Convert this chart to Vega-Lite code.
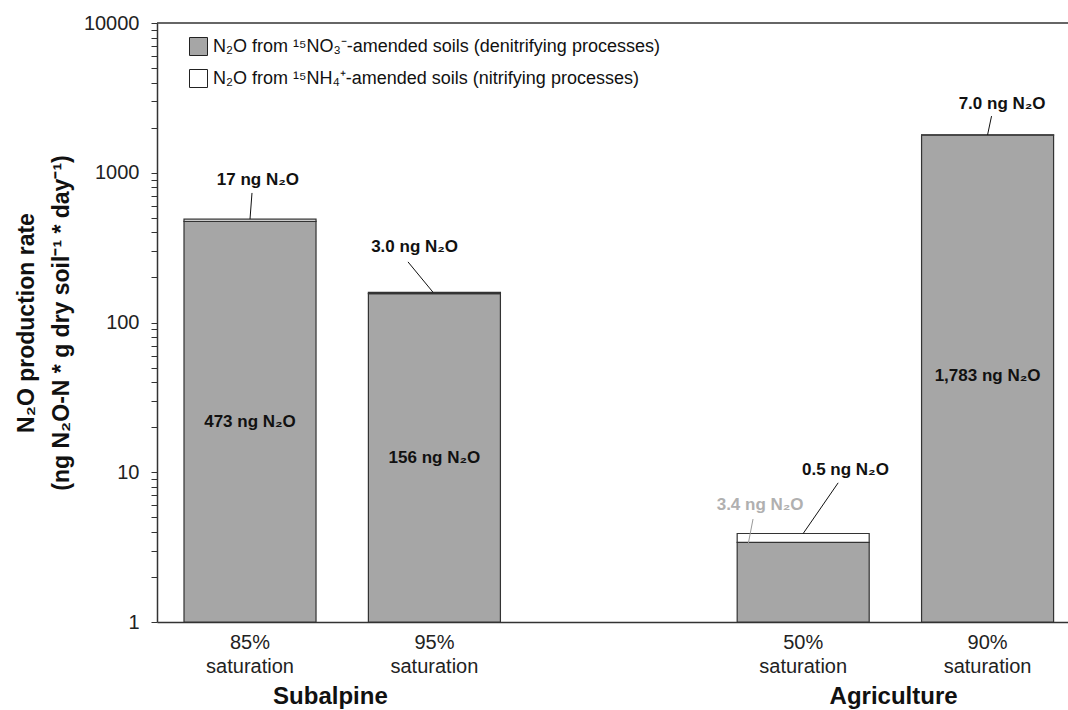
{
  "$schema": "https://vega.github.io/schema/vega-lite/v6.json",
  "width": 911,
  "height": 599,
  "autosize": {"type": "none"},
  "padding": {"left": 157, "top": 23, "right": 0, "bottom": 88},
  "background": "white",
  "config": {"font": "Liberation Sans", "view": {"stroke": null}},
  "datasets": {
    "bars": [
      {"cat": "85%\nsaturation", "source": "N₂O from ¹⁵NO₃⁻-amended soils (denitrifying processes)", "value": 473},
      {"cat": "85%\nsaturation", "source": "N₂O from ¹⁵NH₄⁺-amended soils (nitrifying processes)", "value": 17},
      {"cat": "95%\nsaturation", "source": "N₂O from ¹⁵NO₃⁻-amended soils (denitrifying processes)", "value": 156},
      {"cat": "95%\nsaturation", "source": "N₂O from ¹⁵NH₄⁺-amended soils (nitrifying processes)", "value": 3.0},
      {"cat": "50%\nsaturation", "source": "N₂O from ¹⁵NO₃⁻-amended soils (denitrifying processes)", "value": 3.4},
      {"cat": "50%\nsaturation", "source": "N₂O from ¹⁵NH₄⁺-amended soils (nitrifying processes)", "value": 0.5},
      {"cat": "90%\nsaturation", "source": "N₂O from ¹⁵NO₃⁻-amended soils (denitrifying processes)", "value": 1783},
      {"cat": "90%\nsaturation", "source": "N₂O from ¹⁵NH₄⁺-amended soils (nitrifying processes)", "value": 7.0}
    ],
    "barlabels": [
      {"cat": "85%\nsaturation", "text": "473 ng N₂O", "ly": 21.7},
      {"cat": "95%\nsaturation", "text": "156 ng N₂O", "ly": 12.4},
      {"cat": "90%\nsaturation", "text": "1,783 ng N₂O", "ly": 44}
    ],
    "ann": [
      {"id": "a17", "cat": "85%\nsaturation", "text": "17 ng N₂O", "ty": 895, "ly1": 733, "ly2": 490},
      {"id": "a3", "cat": "95%\nsaturation", "text": "3.0 ng N₂O", "ty": 319, "ly1": 254, "ly2": 159},
      {"id": "a05", "cat": "50%\nsaturation", "text": "0.5 ng N₂O", "ty": 10.4, "ly1": 8.5, "ly2": 3.9},
      {"id": "a34", "cat": "50%\nsaturation", "text": "3.4 ng N₂O", "ty": 6.0, "ly1": 4.87, "ly2": 3.3},
      {"id": "a7", "cat": "90%\nsaturation", "text": "7.0 ng N₂O", "ty": 2900, "ly1": 2390, "ly2": 1790}
    ],
    "groups": [
      {"cat": "95%\nsaturation", "group": "Subalpine"},
      {"cat": "90%\nsaturation", "group": "Agriculture"}
    ]
  },
  "layer": [
    {
      "data": {"name": "bars"},
      "transform": [
        {"stack": "value", "groupby": ["cat"], "sort": [{"field": "source", "order": "descending"}], "as": ["v0", "v1"]}
      ],
      "mark": {"type": "bar", "stroke": "#333333", "strokeWidth": 1.2},
      "encoding": {
        "x": {
          "field": "cat", "type": "nominal",
          "scale": {"domain": ["85%\nsaturation", "95%\nsaturation", " ", "50%\nsaturation", "90%\nsaturation"], "paddingInner": 0.284, "paddingOuter": 0.1123, "align": 0.652},
          "axis": {"title": null, "ticks": false, "labelAngle": 0, "labelFontSize": 20, "labelColor": "#222222", "labelExpr": "split(datum.label, '\\n')", "labelPadding": 10, "labelLineHeight": 24, "labelBaseline": "top", "domainColor": "#333333", "domainWidth": 1.5}
        },
        "y": {
          "field": "v1", "type": "quantitative",
          "scale": {"type": "log", "domain": [1, 10000], "clamp": true},
          "axis": {
            "title": ["N₂O production rate", "(ng N₂O-N * g dry soil⁻¹ * day⁻¹)"],
            "titleFontSize": 23, "titleFontWeight": "bold", "titleColor": "#111111", "titlePadding": 10, "titleLineHeight": 35,
            "values": [1, 2, 3, 4, 5, 6, 7, 8, 9, 10, 20, 30, 40, 50, 60, 70, 80, 90, 100, 200, 300, 400, 500, 600, 700, 800, 900, 1000, 2000, 3000, 4000, 5000, 6000, 7000, 8000, 9000, 10000],
            "labelExpr": "indexof([1, 10, 100, 1000, 10000], datum.value) >= 0 ? datum.label : ''",
            "format": "d", "labelFontSize": 20, "labelColor": "#222222", "labelPadding": 12,
            "tickSize": 6, "tickColor": "#333333", "domainColor": "#333333", "domainWidth": 1.5, "grid": false
          }
        },
        "y2": {"field": "v0"},
        "color": {
          "field": "source", "type": "nominal",
          "scale": {"domain": ["N₂O from ¹⁵NO₃⁻-amended soils (denitrifying processes)", "N₂O from ¹⁵NH₄⁺-amended soils (nitrifying processes)"], "range": ["#a6a6a6", "#ffffff"]},
          "legend": {"title": null, "orient": "none", "legendX": 32, "legendY": 14, "symbolType": "square", "symbolSize": 324, "symbolStrokeColor": "#222222", "symbolStrokeWidth": 1, "labelFontSize": 18, "labelLimit": 0, "labelOffset": 5, "rowPadding": 9, "padding": 0, "labelColor": "#111111"}
        }
      }
    },
    {
      "data": {"values": [{}]},
      "mark": {"type": "rule", "color": "#333333", "strokeWidth": 1.5},
      "encoding": {"y": {"datum": 10000}}
    },
    {
      "data": {"name": "barlabels"},
      "mark": {"type": "text", "fontSize": 17, "fontWeight": "bold", "color": "#111111"},
      "encoding": {
        "x": {"field": "cat", "type": "nominal"},
        "y": {"field": "ly", "type": "quantitative"},
        "text": {"field": "text"}
      }
    },
    {
      "data": {"name": "groups"},
      "transform": [{"filter": "datum.group == 'Subalpine'"}],
      "mark": {"type": "text", "fontSize": 24, "fontWeight": "bold", "dx": -38, "dy": 75, "baseline": "middle", "color": "#111111"},
      "encoding": {
        "x": {"field": "cat", "type": "nominal", "bandPosition": 0},
        "y": {"datum": 1},
        "text": {"field": "group"}
      }
    },
    {
      "data": {"name": "groups"},
      "transform": [{"filter": "datum.group == 'Agriculture'"}],
      "mark": {"type": "text", "fontSize": 24, "fontWeight": "bold", "dx": -28, "dy": 75, "baseline": "middle", "color": "#111111"},
      "encoding": {
        "x": {"field": "cat", "type": "nominal", "bandPosition": 0},
        "y": {"datum": 1},
        "text": {"field": "group"}
      }
    },
    {
      "data": {"name": "ann"},
      "transform": [{"filter": "datum.id == 'a17'"}],
      "mark": {"type": "text", "fontSize": 17, "fontWeight": "bold", "color": "#111111"},
      "encoding": {"x": {"field": "cat", "type": "nominal", "bandPosition": 0.56}, "y": {"field": "ty", "type": "quantitative"}, "text": {"field": "text"}}
    },
    {
      "data": {"name": "ann"},
      "transform": [{"filter": "datum.id == 'a17'"}],
      "mark": {"type": "rule", "color": "#111111", "strokeWidth": 1},
      "encoding": {"x": {"field": "cat", "type": "nominal", "bandPosition": 0.515}, "x2": {"field": "cat", "bandPosition": 0.5}, "y": {"field": "ly1", "type": "quantitative"}, "y2": {"field": "ly2"}}
    },
    {
      "data": {"name": "ann"},
      "transform": [{"filter": "datum.id == 'a3'"}],
      "mark": {"type": "text", "fontSize": 17, "fontWeight": "bold", "color": "#111111"},
      "encoding": {"x": {"field": "cat", "type": "nominal", "bandPosition": 0.35}, "y": {"field": "ty", "type": "quantitative"}, "text": {"field": "text"}}
    },
    {
      "data": {"name": "ann"},
      "transform": [{"filter": "datum.id == 'a3'"}],
      "mark": {"type": "rule", "color": "#111111", "strokeWidth": 1},
      "encoding": {"x": {"field": "cat", "type": "nominal", "bandPosition": 0.30}, "x2": {"field": "cat", "bandPosition": 0.49}, "y": {"field": "ly1", "type": "quantitative"}, "y2": {"field": "ly2"}}
    },
    {
      "data": {"name": "ann"},
      "transform": [{"filter": "datum.id == 'a05'"}],
      "mark": {"type": "text", "fontSize": 17, "fontWeight": "bold", "color": "#111111"},
      "encoding": {"x": {"field": "cat", "type": "nominal", "bandPosition": 0.82}, "y": {"field": "ty", "type": "quantitative"}, "text": {"field": "text"}}
    },
    {
      "data": {"name": "ann"},
      "transform": [{"filter": "datum.id == 'a05'"}],
      "mark": {"type": "rule", "color": "#111111", "strokeWidth": 1},
      "encoding": {"x": {"field": "cat", "type": "nominal", "bandPosition": 0.765}, "x2": {"field": "cat", "bandPosition": 0.5}, "y": {"field": "ly1", "type": "quantitative"}, "y2": {"field": "ly2"}}
    },
    {
      "data": {"name": "ann"},
      "transform": [{"filter": "datum.id == 'a34'"}],
      "mark": {"type": "text", "fontSize": 17, "fontWeight": "bold", "color": "#b0b0b0"},
      "encoding": {"x": {"field": "cat", "type": "nominal", "bandPosition": 0.174}, "y": {"field": "ty", "type": "quantitative"}, "text": {"field": "text"}}
    },
    {
      "data": {"name": "ann"},
      "transform": [{"filter": "datum.id == 'a34'"}],
      "mark": {"type": "rule", "color": "#999999", "strokeWidth": 1},
      "encoding": {"x": {"field": "cat", "type": "nominal", "bandPosition": 0.12}, "x2": {"field": "cat", "bandPosition": 0.083}, "y": {"field": "ly1", "type": "quantitative"}, "y2": {"field": "ly2"}}
    },
    {
      "data": {"name": "ann"},
      "transform": [{"filter": "datum.id == 'a7'"}],
      "mark": {"type": "text", "fontSize": 17, "fontWeight": "bold", "color": "#111111"},
      "encoding": {"x": {"field": "cat", "type": "nominal", "bandPosition": 0.61}, "y": {"field": "ty", "type": "quantitative"}, "text": {"field": "text"}}
    },
    {
      "data": {"name": "ann"},
      "transform": [{"filter": "datum.id == 'a7'"}],
      "mark": {"type": "rule", "color": "#111111", "strokeWidth": 1},
      "encoding": {"x": {"field": "cat", "type": "nominal", "bandPosition": 0.53}, "x2": {"field": "cat", "bandPosition": 0.5}, "y": {"field": "ly1", "type": "quantitative"}, "y2": {"field": "ly2"}}
    }
  ]
}
